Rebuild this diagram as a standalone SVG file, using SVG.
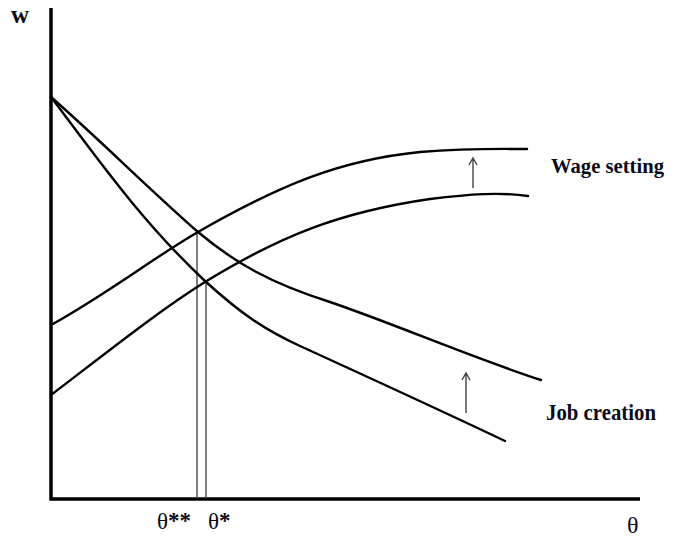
<svg xmlns="http://www.w3.org/2000/svg" width="674" height="539" viewBox="0 0 674 539">
<style>
.curve{fill:none;stroke:#000;stroke-width:2.4;stroke-linejoin:round;stroke-linecap:round}
.axis{fill:none;stroke:#000;stroke-width:3.5}
.vline{stroke:#555;stroke-width:1.5}
.arrow{fill:none;stroke:#444;stroke-width:1.4}
.lbl{font-family:"Liberation Serif","Times New Roman",serif;font-weight:bold;fill:#0a0a1a}
.th{font-family:"Liberation Serif","Times New Roman",serif;fill:#0a0a1a}
</style>
<rect width="674" height="539" fill="#fff"/>
<g id="axes">
<polyline class="axis" points="51,8 51,499 640,499"/>
<text class="lbl" x="11" y="23" font-size="25">w</text>
<text class="th" x="627" y="533" font-size="24">θ</text>
</g>
<g id="connectors">
<line class="vline" x1="197" y1="232" x2="197" y2="498"/>
<line class="vline" x1="206" y1="282" x2="206" y2="498"/>
<path class="arrow" d="M473,188 L473,158 M469,165 L473,158 L477,165"/>
<path class="arrow" d="M466,413 L466,373 M462,380 L466,373 L470,380"/>
</g>
<g id="job-creation-upper">
<path class="curve" d="M51,97 C100,140 150,190 198,232 C235,263 270,283 330,302 C400,326 470,357 541,380"/>
</g>
<g id="job-creation-lower">
<path class="curve" d="M51,97 C95,155 140,220 205,281 C240,313 265,330 300,346 C370,378 440,410 505,441"/>
</g>
<g id="wage-setting-upper">
<path class="curve" d="M51,325 C110,292 150,260 198,232 C280,185 340,160 420,152 C470,148 500,149 527,149"/>
</g>
<g id="wage-setting-lower">
<path class="curve" d="M51,395 C110,350 160,310 205,282 C280,236 340,212 430,199 C470,194 500,192 528,196"/>
</g>
<g id="labels">
<text class="lbl" x="551" y="173" font-size="22" textLength="113" lengthAdjust="spacingAndGlyphs">Wage setting</text>
<text class="lbl" x="546" y="420" font-size="23" textLength="110" lengthAdjust="spacingAndGlyphs">Job creation</text>
<text class="th" x="157" y="529" font-size="23">θ<tspan font-weight="bold" dy="-1">**</tspan></text>
<text class="th" x="208" y="529" font-size="23">θ<tspan font-weight="bold" dy="-1">*</tspan></text>
</g>
</svg>
